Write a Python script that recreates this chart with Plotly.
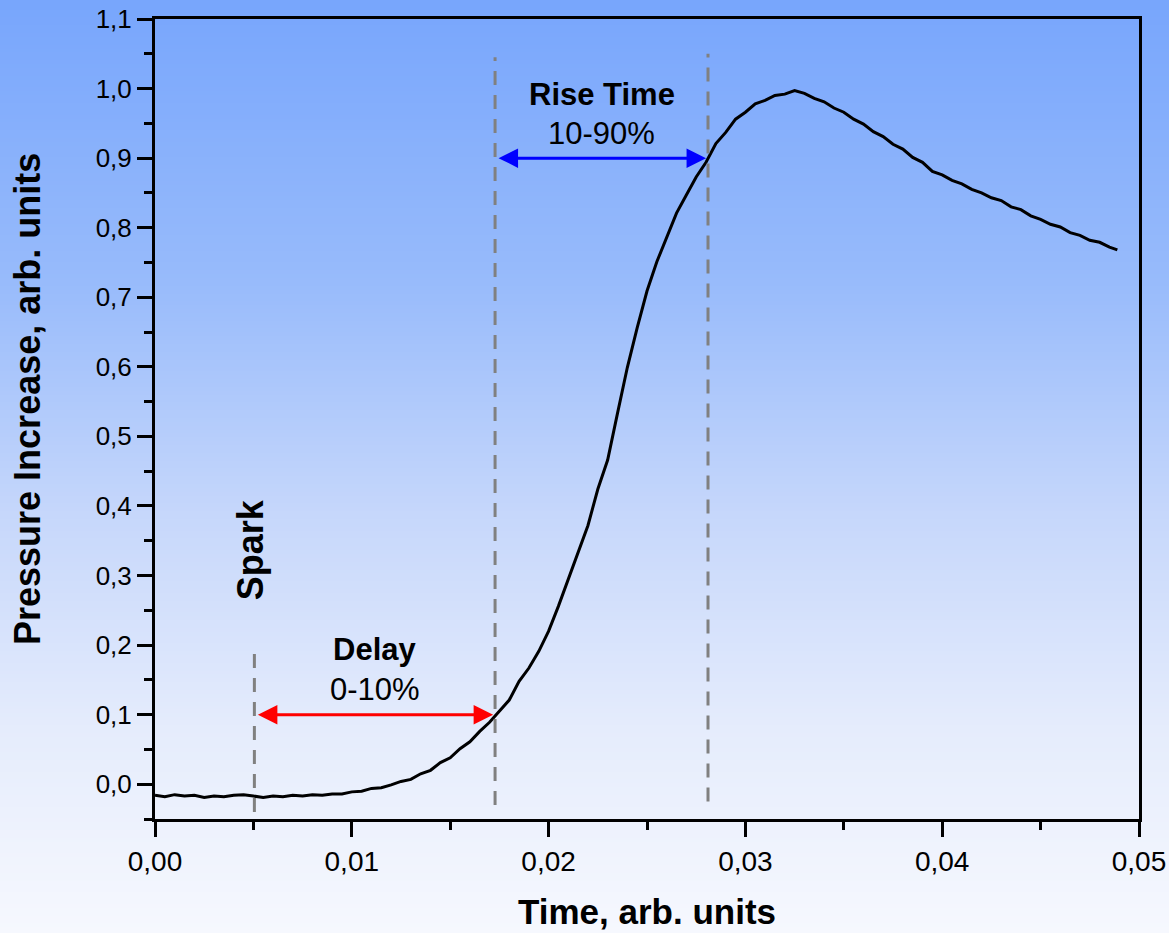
import base64, struct, zlib
import plotly.graph_objects as go

# ---------------- data ----------------
time = [0.0000, 0.0005, 0.0010, 0.0015, 0.0020, 0.0025, 0.0030, 0.0035, 0.0040, 0.0045,
        0.0050, 0.0055, 0.0060, 0.0065, 0.0070, 0.0075, 0.0080, 0.0085, 0.0090, 0.0095,
        0.0100, 0.0105, 0.0110, 0.0115, 0.0120, 0.0125, 0.0130, 0.0135, 0.0140, 0.0145,
        0.0150, 0.0155, 0.0160, 0.0165, 0.0170, 0.0175, 0.0180, 0.0185, 0.0190, 0.0195,
        0.0200, 0.0205, 0.0210, 0.0215, 0.0220, 0.0225, 0.0230, 0.0235, 0.0240, 0.0245,
        0.0250, 0.0255, 0.0260, 0.0265, 0.0270, 0.0275, 0.0280, 0.0285, 0.0290, 0.0295,
        0.0300, 0.0305, 0.0310, 0.0315, 0.0320, 0.0325, 0.0330, 0.0335, 0.0340, 0.0345,
        0.0350, 0.0355, 0.0360, 0.0365, 0.0370, 0.0375, 0.0380, 0.0385, 0.0390, 0.0395,
        0.0400, 0.0405, 0.0410, 0.0415, 0.0420, 0.0425, 0.0430, 0.0435, 0.0440, 0.0445,
        0.0450, 0.0455, 0.0460, 0.0465, 0.0470, 0.0475, 0.0480, 0.0485, 0.0489]
pressure = [-0.016, -0.018, -0.015, -0.017, -0.016, -0.019, -0.017, -0.018, -0.016, -0.015,
            -0.017, -0.019, -0.017, -0.018, -0.016, -0.017, -0.015, -0.016, -0.014, -0.014,
            -0.011, -0.010, -0.006, -0.005, -0.001, 0.004, 0.007, 0.015, 0.020, 0.031,
            0.038, 0.051, 0.061, 0.076, 0.089, 0.105, 0.121, 0.148, 0.167, 0.191,
            0.220, 0.256, 0.294, 0.331, 0.372, 0.424, 0.466, 0.533, 0.599, 0.656,
            0.709, 0.751, 0.786, 0.821, 0.847, 0.873, 0.894, 0.921, 0.937, 0.956,
            0.966, 0.978, 0.983, 0.990, 0.992, 0.997, 0.993, 0.986, 0.981, 0.972,
            0.966, 0.956, 0.949, 0.938, 0.931, 0.920, 0.913, 0.901, 0.894, 0.881,
            0.876, 0.868, 0.863, 0.855, 0.850, 0.843, 0.839, 0.830, 0.826, 0.817,
            0.812, 0.805, 0.801, 0.793, 0.789, 0.782, 0.779, 0.772, 0.768]

spark_x = 0.00505
t10_x = 0.01728
t90_x = 0.02810
level10 = 0.1
level90 = 0.9

x_ticks = [0.00, 0.01, 0.02, 0.03, 0.04, 0.05]
y_ticks = [0.0, 0.1, 0.2, 0.3, 0.4, 0.5, 0.6, 0.7, 0.8, 0.9, 1.0, 1.1]

# ---------------- background gradient png ----------------
stops = [(0.0, (120, 166, 252)), (0.30, (152, 187, 251)), (0.55, (198, 215, 251)),
         (0.78, (229, 236, 252)), (1.0, (246, 248, 254))]
H = 240
rows = b""
for i in range(H):
    t = i / (H - 1)
    for k in range(len(stops) - 1):
        if stops[k][0] <= t <= stops[k + 1][0]:
            a, ca = stops[k]
            b, cb = stops[k + 1]
            f = (t - a) / (b - a)
            c = tuple(int(round(ca[j] + (cb[j] - ca[j]) * f)) for j in range(3))
            break
    rows += b"\x00" + bytes(c) * 4

def chunk(tag, data):
    return struct.pack(">I", len(data)) + tag + data + struct.pack(">I", zlib.crc32(tag + data) & 0xffffffff)

png = (b"\x89PNG\r\n\x1a\n" + chunk(b"IHDR", struct.pack(">IIBBBBB", 4, H, 8, 2, 0, 0, 0))
       + chunk(b"IDAT", zlib.compress(rows)) + chunk(b"IEND", b""))
bg_src = "data:image/png;base64," + base64.b64encode(png).decode()

# ---------------- figure ----------------
W, HT = 1169, 933
L, R, T, B = 155, 30, 19, 114
pw, ph = W - L - R, HT - T - B

fig = go.Figure()
fig.add_trace(go.Scatter(x=time, y=pressure, mode="lines",
                         line=dict(color="black", width=3), showlegend=False))

fig.add_layout_image(dict(source=bg_src, xref="paper", yref="paper",
                          x=-L / pw, y=1 + T / ph, sizex=W / pw, sizey=HT / ph,
                          sizing="stretch", layer="below", xanchor="left", yanchor="top"))

dash = dict(color="#808080", width=3, dash="14px,10px")
fig.add_shape(type="line", x0=spark_x, x1=spark_x, y0=-0.04, y1=0.2, line=dash)
fig.add_shape(type="line", x0=t10_x, x1=t10_x, y0=-0.03, y1=1.045, line=dash)
fig.add_shape(type="line", x0=t90_x, x1=t90_x, y0=-0.025, y1=1.05, line=dash)

# arrows
for (xa, xb, yv, col) in [(spark_x + 0.0001, t10_x - 0.0001, level10, "red"),
                          (t10_x + 0.0001, t90_x - 0.0001, level90, "blue")]:
    fig.add_annotation(x=xb, y=yv, ax=xa, ay=yv, xref="x", yref="y", axref="x", ayref="y",
                       text="", showarrow=True, arrowhead=2, startarrowhead=2,
                       arrowside="end+start", arrowsize=1.3, startarrowsize=1.3,
                       arrowwidth=3, arrowcolor=col)

txt = dict(family="Liberation Sans, Arial, sans-serif", color="black")
fig.add_annotation(x=(t10_x + t90_x) / 2, y=0.991, text="<b>Rise Time</b>", showarrow=False,
                   font=dict(size=31, **txt), xref="x", yref="y")
fig.add_annotation(x=(t10_x + t90_x) / 2, y=0.936, text="10-90%", showarrow=False,
                   font=dict(size=31, **txt), xref="x", yref="y")
fig.add_annotation(x=(spark_x + t10_x) / 2, y=0.194, text="<b>Delay</b>", showarrow=False,
                   font=dict(size=31, **txt), xref="x", yref="y")
fig.add_annotation(x=(spark_x + t10_x) / 2, y=0.136, text="0-10%", showarrow=False,
                   font=dict(size=31, **txt), xref="x", yref="y")
fig.add_annotation(x=spark_x - 0.0002, y=0.337, text="<b>Spark</b>", showarrow=False, textangle=-90,
                   font=dict(size=36, **txt), xref="x", yref="y")
# y-axis title (placed as annotation to match original offset)
fig.add_annotation(x=(27 - L) / pw, y=(HT - B - 399) / ph, xref="paper", yref="paper",
                   xanchor="center", yanchor="middle",
                   text="<b>Pressure Increase, arb. units</b>", showarrow=False, textangle=-90,
                   font=dict(size=36, **txt))

axis_common = dict(showline=True, linecolor="black", linewidth=3, mirror=True,
                   showgrid=False, zeroline=False, ticks="outside", ticklen=15,
                   tickwidth=2.5, tickcolor="black", automargin=False,
                   minor=dict(ticks="outside", ticklen=8, tickwidth=2.5, tickcolor="black"))

fig.update_xaxes(range=[0, 0.05], tickvals=x_ticks, tickformat=".2f",
                 minor_dtick=0.005, minor_tick0=0, tickfont=dict(size=28, **txt),
                 title=dict(text="<b>Time, arb. units</b>", font=dict(size=35, **txt), standoff=24),
                 **axis_common)
fig.update_yaxes(range=[-0.05, 1.1], tickvals=y_ticks, tickformat=".1f",
                 minor_dtick=0.05, minor_tick0=0.05, tickfont=dict(size=26, **txt),
                 **axis_common)

fig.update_layout(width=W, height=HT, margin=dict(l=L, r=R, t=T, b=B, autoexpand=False),
                  paper_bgcolor="rgba(0,0,0,0)", plot_bgcolor="rgba(0,0,0,0)",
                  separators=", ", showlegend=False, font=txt)

fig.write_html("out.html")
